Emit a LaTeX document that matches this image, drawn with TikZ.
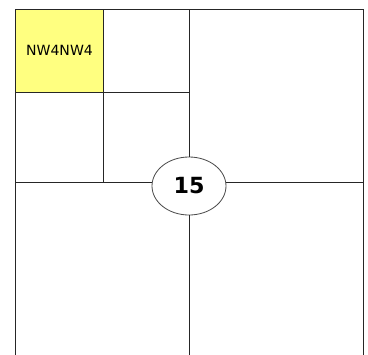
\documentclass[tikz,border=0pt]{standalone}
\usepackage{fontspec}
\setmainfont{DejaVu Sans}
\usepackage{xcolor}
\usetikzlibrary{positioning,shapes.geometric,calc}

\definecolor{cellyellow}{RGB}{255,255,128}

\begin{document}
\begin{tikzpicture}[
  x=0.03cm, y=-0.03cm,
  grid/.style={draw=black!85, line width=0.8pt},
  cell/.style={rectangle, inner sep=0pt, font=\fontsize{12}{14}\selectfont},
  centre/.style={ellipse, draw=black!70, line width=0.7pt, fill=white, minimum width=2.22cm, minimum height=1.74cm, inner sep=0pt, font=\fontsize{19}{22}\selectfont\bfseries}
  ]
  \useasboundingbox (0,0) rectangle (368,354);
  % corners and edge points
  \coordinate (tl) at (15.5,9.5);
  \coordinate (tr) at (363.5,9.5);
  \coordinate (bl) at (15.5,360);
  \coordinate (br) at (363.5,360);
  \coordinate (top) at (189,9.5);
  \coordinate (bot) at (189,360);
  \coordinate (lft) at (15.5,182);
  \coordinate (rgt) at (363.5,182);
  \coordinate (subtop) at (103.5,9.5);
  \coordinate (sublft) at (15.5,92);
  \coordinate (subc) at (103.5,92);
  \coordinate (subbot) at (103.5,182);
  \coordinate (submid) at (189,92);
  % highlighted cell
  \fill[cellyellow] (tl) rectangle (subc);
  \node[cell] (nw4) at ($(tl)!0.5!(subc)$) {NW4NW4};
  % outer frame and subdivisions
  \draw[grid] (bl) -- (tl) -- (tr) -- (br);
  \draw[grid] (subtop) -- (subbot);
  \draw[grid] (sublft) -- (submid);
  \node[centre] (root) at (189,186) {15};
  \draw[grid] (root) -- (top);
  \draw[grid] (root) -- (bot);
  \draw[grid] (lft) -- (lft -| root.west);
  \draw[grid] (rgt) -- (rgt -| root.east);
\end{tikzpicture}
\end{document}
